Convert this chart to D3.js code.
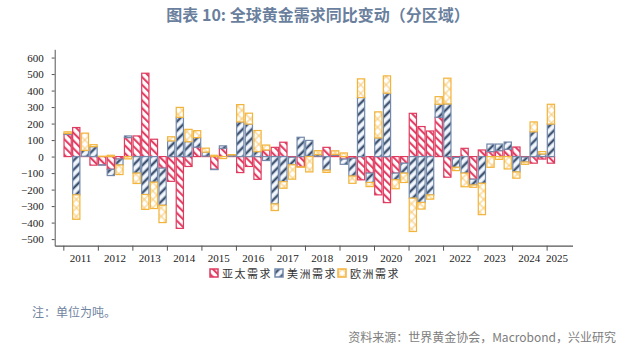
<!DOCTYPE html>
<html>
<head>
<meta charset="utf-8">
<script src="https://cdn.jsdelivr.net/npm/d3@7"></script>
<style>
  body { margin: 0; background: #fff; }
  .tick text, .year { font-family: "Liberation Serif", "DejaVu Serif", serif; font-size: 11px; fill: #222; }
  .cjk { font-family: "Noto Sans CJK SC", sans-serif; }
</style>
</head>
<body>
<svg id="chart" width="640" height="351"></svg>
<script>
// quarterly data, 2011Q1 .. 2025Q1 (tonnes, yoy change)
var years = [2011, 2012, 2013, 2014, 2015, 2016, 2017, 2018, 2019, 2020, 2021, 2022, 2023, 2024, 2025];
var asia = [135, 176, 2, -52, -50, -77, -15, 115, 125, 505, 105, -70, -150, -435, -60, 57,
            3, -77, 50, 2, -97, -60, -138, 40, 56, 87, -4, -62, 3, 2, 56, 8,
            -15, -10, -141, -100, -232, -279, -100, -40, 262, 182, 155, 238, -125, -5, 50, -137,
            40, 30, 36, 44, 58, -3, -40, -15, -40];
var americas = [5, -232, 35, 60, -2, -38, -36, 10, -100, -230, -155, -225, 95, 238, 90, 58,
                24, -2, 15, 8, 210, 197, 30, -24, -287, -152, -46, 117, 95, 10, -82, 5,
                -32, -108, 358, -57, 113, 384, -40, -60, -252, -278, -232, 79, 319, -60, -100, -35,
                -162, 46, 40, 44, -93, -30, 150, 16, 197];
var europe = [10, -148, 105, 12, 2, 8, -58, -14, -63, -90, -160, -105, 25, 60, 75, 42,
              24, 8, -12, 2, 105, 66, 128, 30, -40, -40, -87, -2, -93, 24, -14, 22,
              22, -44, 113, -25, 158, 105, -55, -57, -202, -40, -26, 46, 156, -20, -83, -14,
              -190, -65, -17, -75, -38, -14, 60, 14, 120];
var keys = ['asia', 'americas', 'europe'];
var names = ['亚太需求', '美洲需求', '欧洲需求'];
var yTicks = [-500, -400, -300, -200, -100, 0, 100, 200, 300, 400, 500, 600];

var rows = asia.map(function(v, i) {
  return {i: i, asia: v, americas: americas[i], europe: europe[i]};
});

var svg = d3.select('#chart');

// hatch patterns
var defs = svg.append('defs');
var pRed = defs.append('pattern').attr('id', 'p-asia')
  .attr('patternUnits', 'userSpaceOnUse').attr('width', 5.5).attr('height', 5.5)
  .attr('patternTransform', 'rotate(-45)');
pRed.append('rect').attr('width', 5.5).attr('height', 5.5).attr('fill', '#fff');
pRed.append('line').attr('x1', 2).attr('x2', 2).attr('y1', 0).attr('y2', 5.5)
  .attr('stroke', '#e2365e').attr('stroke-width', 2);

var pBlue = defs.append('pattern').attr('id', 'p-americas')
  .attr('patternUnits', 'userSpaceOnUse').attr('width', 6.5).attr('height', 6.5)
  .attr('patternTransform', 'rotate(45)');
pBlue.append('rect').attr('width', 6.5).attr('height', 6.5).attr('fill', '#f4f7fb');
pBlue.append('line').attr('x1', 3).attr('x2', 3).attr('y1', 0).attr('y2', 6.5)
  .attr('stroke', '#a9bdd8').attr('stroke-width', 3.4);
pBlue.append('line').attr('x1', 3).attr('x2', 3).attr('y1', 0).attr('y2', 6.5)
  .attr('stroke', '#34445f').attr('stroke-width', 1.7);

var pOr = defs.append('pattern').attr('id', 'p-europe')
  .attr('patternUnits', 'userSpaceOnUse').attr('width', 6).attr('height', 6)
  .attr('patternTransform', 'rotate(45)');
pOr.append('rect').attr('width', 6).attr('height', 6).attr('fill', '#fff');
pOr.append('line').attr('x1', 3).attr('x2', 3).attr('y1', 0).attr('y2', 6)
  .attr('stroke', '#f8c86f').attr('stroke-width', 1);
pOr.append('line').attr('x1', 0).attr('x2', 6).attr('y1', 3).attr('y2', 3)
  .attr('stroke', '#f8c86f').attr('stroke-width', 1);

var strokes = {asia: '#df3b5f', americas: '#7489aa', europe: '#f2b43c'};

// scales
var x = d3.scaleLinear().domain([-1, 59]).range([54.7, 572.5]);
var y = d3.scaleLinear().domain([-540, 650]).range([245.7, 49.3]);
var step = x(1) - x(0);

var stack = d3.stack().keys(keys).offset(d3.stackOffsetDiverging);
var layers = stack(rows);

svg.append('g').selectAll('g')
  .data(layers)
  .enter()
  .append('g')
  .attr('fill', function(d) { return 'url(#p-' + d.key + ')'; })
  .attr('stroke', function(d) { return strokes[d.key]; })
  .attr('stroke-width', 1.2)
  .selectAll('rect')
  .data(function(d) { return d.filter(function(s) { return s[1] !== s[0]; }); })
  .enter()
  .append('rect')
  .attr('x', function(d) { return x(d.data.i) + 0.7; })
  .attr('width', step - 1.4)
  .attr('y', function(d) { return y(Math.max(d[0], d[1])); })
  .attr('height', function(d) { return Math.abs(y(d[0]) - y(d[1])); });

// y axis
var yAxis = svg.append('g')
  .attr('transform', 'translate(' + x(-1) + ',0)')
  .call(d3.axisLeft(y).tickValues(yTicks).tickSize(3).tickPadding(8).tickSizeOuter(0));
yAxis.select('.domain').attr('stroke', '#555');
yAxis.selectAll('.tick line').attr('stroke', '#555');

// x axis at bottom, ticks at year boundaries
var xAxis = svg.append('g')
  .attr('transform', 'translate(0,' + y(-540) + ')')
  .call(d3.axisBottom(x).tickValues(years.map(function(yr, k) { return k * 4; }))
    .tickFormat('').tickSize(5).tickSizeOuter(0));
xAxis.select('.domain').attr('stroke', '#555').attr('stroke-width', 1.3);
xAxis.selectAll('.tick line').attr('stroke', '#555');

svg.append('g').selectAll('text')
  .data(years)
  .enter()
  .append('text')
  .attr('class', 'year')
  .attr('text-anchor', 'middle')
  .attr('x', function(d, k) { return k < years.length - 1 ? x(k * 4 + 2) : x(k * 4 + 1.2); })
  .attr('y', 262)
  .text(function(d) { return d; });

// legend
var legend = svg.append('g').attr('transform', 'translate(210,269)');
var lx = [0, 65, 128];
names.forEach(function(n, k) {
  var g = legend.append('g').attr('transform', 'translate(' + lx[k] + ',0)');
  g.append('rect').attr('width', 8).attr('height', 8)
    .attr('fill', 'url(#p-' + keys[k] + ')').attr('stroke', strokes[keys[k]]).attr('stroke-width', 1.5);
  g.append('text').attr('class', 'cjk').attr('x', 12).attr('y', 8.5)
    .attr('font-size', 11).attr('letter-spacing', 1.5).attr('fill', '#333').text(n);
});

// title and notes
svg.append('text').attr('class', 'cjk')
  .attr('x', 318).attr('y', 21).attr('text-anchor', 'middle')
  .attr('font-size', 16).attr('font-weight', 'bold').attr('fill', '#6a7f9d')
  .text('图表 10: 全球黄金需求同比变动（分区域）');

svg.append('text').attr('class', 'cjk')
  .attr('x', 32).attr('y', 317).attr('font-size', 12).attr('fill', '#6f84a0')
  .text('注：单位为吨。');

svg.append('text').attr('class', 'cjk')
  .attr('x', 616).attr('y', 342).attr('text-anchor', 'end')
  .attr('font-size', 12).attr('fill', '#7d7d7d')
  .text('资料来源：世界黄金协会，Macrobond，兴业研究');
</script>
</body>
</html>
